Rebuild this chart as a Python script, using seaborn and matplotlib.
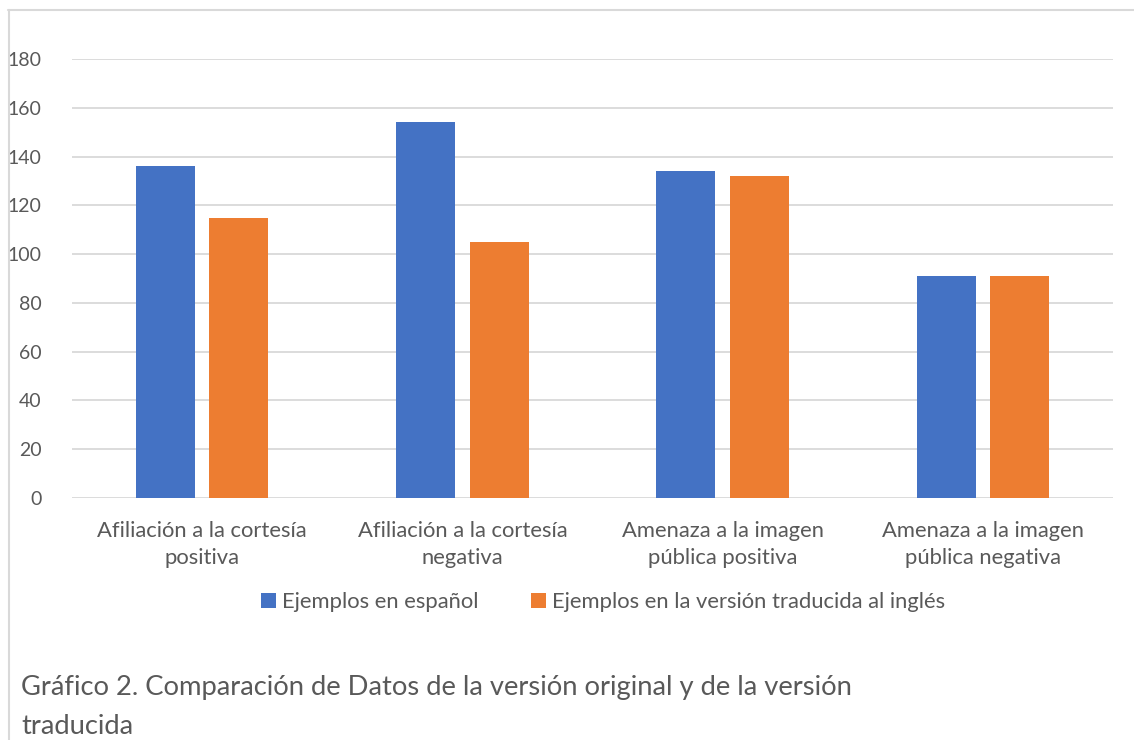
import matplotlib
matplotlib.use("Agg")
import matplotlib.pyplot as plt
from matplotlib.lines import Line2D
import seaborn as sns
import pandas as pd

categories = [
    "Afiliación a la cortesía\npositiva",
    "Afiliación a la cortesía\nnegativa",
    "Amenaza a la imagen\npública positiva",
    "Amenaza a la imagen\npública negativa",
]
series_names = ["Ejemplos en español", "Ejemplos en la versión traducida al inglés"]
espanol = [136, 154, 134, 91]
ingles = [115, 105, 132, 91]
yticks = [0, 20, 40, 60, 80, 100, 120, 140, 160, 180]
caption = "Gráfico 2. Comparación de Datos de la versión original y de la versión\ntraducida"

GREY_TXT = "#595959"
GRID = "#d9d9d9"

df = pd.DataFrame({
    "categoria": categories * 2,
    "serie": [series_names[0]] * 4 + [series_names[1]] * 4,
    "valor": espanol + ingles,
})

sns.set_style("white")
plt.rcParams["font.family"] = ["Lato", "DejaVu Sans"]

fig = plt.figure(figsize=(11.34, 7.40), dpi=100)
ax = fig.add_axes([72 / 1134, 1 - 498 / 740, (1113 - 72) / 1134, (498 - 59) / 740])

sns.barplot(data=df, x="categoria", y="valor", hue="serie", ax=ax,
            palette=["#4472C4", "#ED7D31"], width=0.566, gap=0.2,
            linewidth=0, saturation=1, legend=True)

ax.set_ylim(0, 180)
ax.set_xlim(-0.5, 3.5)
ax.set_yticks(yticks)
ax.set_axisbelow(True)
ax.yaxis.grid(True, color=GRID, linewidth=1.3)
ax.xaxis.grid(False)
for s in ax.spines.values():
    s.set_visible(False)
ax.set_xlabel("")
ax.set_ylabel("")
ax.tick_params(axis="y", length=0, pad=22, labelsize=14, labelcolor=GREY_TXT)
ax.tick_params(axis="x", length=0, pad=16.5, labelsize=15.8, labelcolor=GREY_TXT)
for lab in ax.get_xticklabels():
    lab.set_linespacing(1.45)

handles, labels = ax.get_legend_handles_labels()
ax.get_legend().remove()
fig.legend(handles, labels, loc="center", bbox_to_anchor=(0.532, 1 - 602 / 740),
           ncol=2, frameon=False, fontsize=15.8, labelcolor=GREY_TXT,
           handlelength=0.65, handleheight=0.65, handletextpad=0.3, columnspacing=2.4)

fig.text(21 / 1134, 1 - 675 / 740, caption, ha="left", va="top",
         fontsize=19.7, color=GREY_TXT, linespacing=1.68)

# light frame around the chart (top and left only are visible)
fig.add_artist(Line2D([8 / 1134, 1], [1 - 10 / 740, 1 - 10 / 740], color=GRID, linewidth=1.5))
fig.add_artist(Line2D([9 / 1134, 9 / 1134], [0, 1 - 10 / 740], color=GRID, linewidth=1.5))

fig.savefig("out.png", dpi=100, facecolor="white")
